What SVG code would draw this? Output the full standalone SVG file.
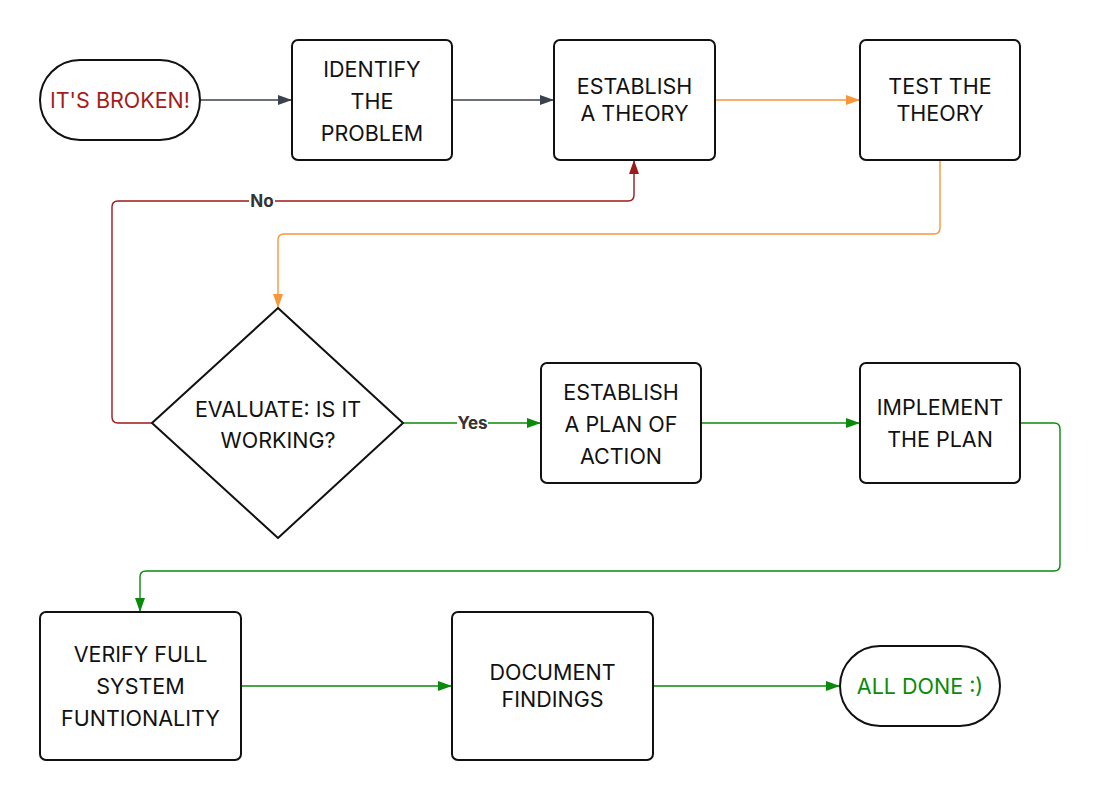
<svg xmlns="http://www.w3.org/2000/svg" width="1102" height="801" viewBox="0 0 1102 801">
<style>
.n{fill:#fff;stroke:#111;stroke-width:2}
.t{font-family:Inter,"Liberation Sans",sans-serif;font-size:21.5px;fill:#111;text-anchor:middle}
.c{fill:none;stroke-width:1.4}
.lb{font-family:Inter,"Liberation Sans",sans-serif;font-size:17px;font-weight:bold;fill:#333;text-anchor:middle}
</style>
<defs>
<marker id="aG" markerUnits="userSpaceOnUse" markerWidth="16" markerHeight="12" refX="14" refY="5" orient="auto"><path d="M0,0 L14,5 L0,10 z" fill="#3b424d"/></marker>
<marker id="aO" markerUnits="userSpaceOnUse" markerWidth="16" markerHeight="12" refX="14" refY="5" orient="auto"><path d="M0,0 L14,5 L0,10 z" fill="#f7963a"/></marker>
<marker id="aR" markerUnits="userSpaceOnUse" markerWidth="16" markerHeight="12" refX="14" refY="5" orient="auto"><path d="M0,0 L14,5 L0,10 z" fill="#9c1a1a"/></marker>
<marker id="aV" markerUnits="userSpaceOnUse" markerWidth="16" markerHeight="12" refX="14" refY="5" orient="auto"><path d="M0,0 L14,5 L0,10 z" fill="#0a8a0a"/></marker>
</defs>
<rect width="1102" height="801" fill="#fff"/>
<g id="connectors">
<path class="c" stroke="#3b424d" d="M200,100 H292" marker-end="url(#aG)"/>
<path class="c" stroke="#3b424d" d="M452,100 H554" marker-end="url(#aG)"/>
<path class="c" stroke="#f7963a" d="M715,100 H860" marker-end="url(#aO)"/>
<path class="c" stroke="#f7963a" d="M940,160 V228 Q940,234 934,234 H284 Q278,234 278,240 V308" marker-end="url(#aO)"/>
<path class="c" stroke="#9c1a1a" d="M152,423 H118 Q112,423 112,417 V207 Q112,201 118,201 H628 Q634,201 634,195 V160" marker-end="url(#aR)"/>
<path class="c" stroke="#0a8a0a" stroke-width="2" d="M403,423 H541" marker-end="url(#aV)"/>
<path class="c" stroke="#0a8a0a" d="M701,423 H860" marker-end="url(#aV)"/>
<path class="c" stroke="#0a8a0a" d="M1020,423 H1054 Q1060,423 1060,429 V565 Q1060,571 1054,571 H146 Q140,571 140,577 V612" marker-end="url(#aV)"/>
<path class="c" stroke="#0a8a0a" d="M241,686 H452" marker-end="url(#aV)"/>
<path class="c" stroke="#0a8a0a" d="M653,686 H840" marker-end="url(#aV)"/>
<rect x="249" y="191" width="26" height="20" fill="#fff"/>
<text class="lb" x="262" y="207">No</text>
<rect x="457" y="413" width="31" height="20" fill="#fff"/>
<text class="lb" x="472.5" y="429">Yes</text>
</g>
<g id="start">
<rect class="n" x="40" y="60" width="160" height="80" rx="40"/>
<text class="t" x="120" y="108" style="fill:#a31c1c">IT'S BROKEN!</text>
</g>
<g id="identify">
<rect class="n" x="292" y="40" width="160" height="120" rx="6"/>
<text class="t" x="372" y="77">IDENTIFY</text>
<text class="t" x="372" y="109">THE</text>
<text class="t" x="372" y="141">PROBLEM</text>
</g>
<g id="theory">
<rect class="n" x="554" y="40" width="161" height="120" rx="6"/>
<text class="t" x="634.5" y="94">ESTABLISH</text>
<text class="t" x="634.5" y="121">A THEORY</text>
</g>
<g id="test">
<rect class="n" x="860" y="40" width="160" height="120" rx="6"/>
<text class="t" x="940" y="94">TEST THE</text>
<text class="t" x="940" y="121">THEORY</text>
</g>
<g id="evaluate">
<polygon class="n" stroke-linejoin="round" points="278,308 403,423 278,538 152,423"/>
<text class="t" x="278" y="417">EVALUATE: IS IT</text>
<text class="t" x="278" y="448">WORKING?</text>
</g>
<g id="plan">
<rect class="n" x="541" y="363" width="160" height="120" rx="6"/>
<text class="t" x="621" y="400">ESTABLISH</text>
<text class="t" x="621" y="432">A PLAN OF</text>
<text class="t" x="621" y="464">ACTION</text>
</g>
<g id="implement">
<rect class="n" x="860" y="363" width="160" height="120" rx="6"/>
<text class="t" x="940" y="415">IMPLEMENT</text>
<text class="t" x="940" y="447">THE PLAN</text>
</g>
<g id="verify">
<rect class="n" x="40" y="612" width="201" height="148" rx="6"/>
<text class="t" x="140.5" y="662">VERIFY FULL</text>
<text class="t" x="140.5" y="694">SYSTEM</text>
<text class="t" x="140.5" y="726">FUNTIONALITY</text>
</g>
<g id="document">
<rect class="n" x="452" y="612" width="201" height="148" rx="6"/>
<text class="t" x="552.5" y="680">DOCUMENT</text>
<text class="t" x="552.5" y="707">FINDINGS</text>
</g>
<g id="done">
<rect class="n" x="840" y="646" width="160" height="80" rx="40"/>
<text class="t" x="920" y="694" style="fill:#0a8a0a">ALL DONE :)</text>
</g>
</svg>
